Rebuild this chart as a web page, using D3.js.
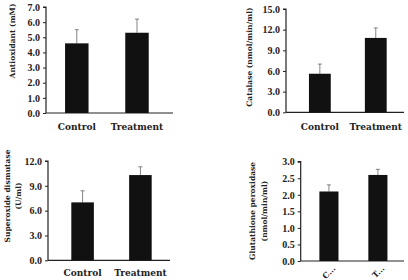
<!DOCTYPE html>
<html>
<head>
<meta charset="utf-8">
<script src="https://cdn.jsdelivr.net/npm/d3@7"></script>
<style>
  body { margin: 0; background: #fff; }
  svg { display: block; }
  .tick text { font-family: "Liberation Serif", serif; font-weight: bold; font-size: 10px; fill: #222; }
  .cat { font-family: "DejaVu Serif", serif; font-weight: bold; font-size: 9px; fill: #222; }
  .cat.small { font-size: 8px; }
  .ylab { font-family: "DejaVu Serif", serif; font-weight: bold; font-size: 7.5px; fill: #222; }
</style>
</head>
<body>
<script>
// ________ data ________
const groups = ['Control', 'Treatment'];
const shortGroups = ['C...', 'T...'];

const antioxidant = [4.6, 5.3];
const antioxidantErr = [0.9, 0.9];
const catalase = [5.6, 10.8];
const catalaseErr = [1.4, 1.45];
const superoxide = [7.0, 10.3];
const superoxideErr = [1.4, 1.0];
const glutathione = [2.1, 2.6];
const glutathioneErr = [0.2, 0.17];

const antioxidantTicks = [0, 1, 2, 3, 4, 5, 6, 7];
const catalaseTicks = [0, 3, 6, 9, 12, 15];
const superoxideTicks = [0, 3, 6, 9, 12];
const glutathioneTicks = [0, 0.5, 1, 1.5, 2, 2.5, 3];

// ________ layout ________
const svg = d3.select('body').append('svg')
  .attr('width', 408)
  .attr('height', 280);

const panels = [
  {values: antioxidant, errs: antioxidantErr, ticks: antioxidantTicks, labels: groups,
   x: [46, 173], y: [113, 7], align: 0.44,
   ylab: ['Antioxidant (mM)'], ylabX: [12], ylabY: 41, catY: 127},
  {values: catalase, errs: catalaseErr, ticks: catalaseTicks, labels: groups,
   x: [286, 404], y: [112.3, 9], align: 0.57,
   ylab: ['Catalase (nmol/min/ml)'], ylabX: [249], ylabY: 57, catY: 127},
  {values: superoxide, errs: superoxideErr, ticks: superoxideTicks, labels: groups,
   x: [48, 170], y: [260.3, 161], align: 0.56,
   ylab: ['Superoxide dismutase', '(U/ml)'], ylabX: [7, 18], ylabY: 196, catY: 273},
  {values: glutathione, errs: glutathioneErr, ticks: glutathioneTicks, labels: shortGroups,
   x: [300.7, 404], y: [261, 161.7], align: 0.53, rotate: true,
   ylab: ['Glutathione peroxidase', '(nmol/min/ml)'], ylabX: [252, 264], ylabY: 211, catY: 267}
];

panels.forEach(p => {
  const g = svg.append('g');
  const x = d3.scaleBand()
    .domain(p.labels)
    .range(p.x)
    .paddingInner(0.61)
    .paddingOuter(0.36)
    .align(p.align);
  const y = d3.scaleLinear()
    .domain([p.ticks[0], p.ticks[p.ticks.length - 1]])
    .range(p.y);

  // y axis
  const ax = g.append('g')
    .attr('transform', `translate(${p.x[0]},0)`)
    .call(d3.axisLeft(y).tickValues(p.ticks).tickFormat(d3.format('.1f')).tickSize(3).tickPadding(3));
  ax.select('.domain').attr('stroke', '#222').attr('stroke-width', 1.2).attr('d', `M-3,${y.range()[1]}H0V${y.range()[0]}`);
  ax.selectAll('.tick line').attr('stroke', '#222');

  // x axis line
  g.append('line')
    .attr('x1', p.x[0]).attr('x2', p.x[1])
    .attr('y1', y(0)).attr('y2', y(0))
    .attr('stroke', '#222').attr('stroke-width', 1.2);

  const rows = p.labels.map((k, i) => ({k, v: p.values[i], e: p.errs[i]}));

  // error bars
  const eb = g.selectAll('g.err').data(rows).enter().append('g').attr('class', 'err');
  eb.append('line')
    .attr('x1', d => x(d.k) + x.bandwidth() / 2)
    .attr('x2', d => x(d.k) + x.bandwidth() / 2)
    .attr('y1', d => y(d.v))
    .attr('y2', d => y(d.v + d.e))
    .attr('stroke', '#666').attr('stroke-width', 0.8);
  eb.append('line')
    .attr('x1', d => x(d.k) + x.bandwidth() / 2 - 2)
    .attr('x2', d => x(d.k) + x.bandwidth() / 2 + 2)
    .attr('y1', d => y(d.v + d.e))
    .attr('y2', d => y(d.v + d.e))
    .attr('stroke', '#666').attr('stroke-width', 0.8);

  // bars
  g.selectAll('rect').data(rows).enter().append('rect')
    .attr('x', d => x(d.k))
    .attr('width', x.bandwidth())
    .attr('y', d => y(d.v))
    .attr('height', d => y(0) - y(d.v))
    .attr('fill', '#111');

  // category labels
  const cat = g.selectAll('text.cat').data(rows).enter().append('text')
    .attr('class', p.rotate ? 'cat small' : 'cat')
    .text(d => d.k);
  if (p.rotate) {
    cat.attr('text-anchor', 'end')
      .attr('dominant-baseline', 'central')
      .attr('transform', d => `translate(${x(d.k) + x.bandwidth() / 2 + 5},${p.catY}) rotate(-45)`);
  } else {
    cat.attr('text-anchor', 'middle')
      .attr('dominant-baseline', 'central')
      .attr('x', d => x(d.k) + x.bandwidth() / 2)
      .attr('y', p.catY);
  }

  // y label
  p.ylab.forEach((t, i) => {
    g.append('text')
      .attr('class', 'ylab')
      .attr('text-anchor', 'middle')
      .attr('dominant-baseline', 'central')
      .attr('transform', `translate(${p.ylabX[i]},${p.ylabY}) rotate(-90)`)
      .text(t);
  });
});
</script>
</body>
</html>
